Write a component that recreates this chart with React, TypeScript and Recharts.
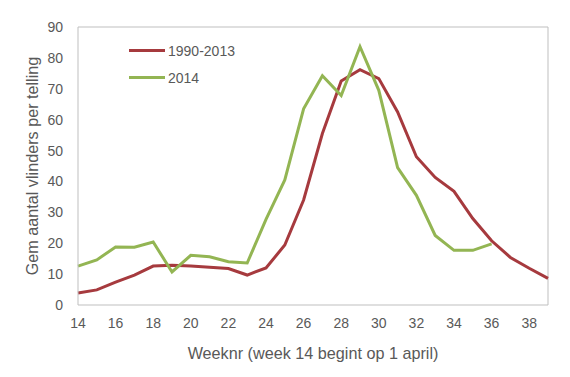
import React from 'react';
import { LineChart, Line, XAxis, YAxis, Legend, Label, ReferenceLine } from 'recharts';

const weeks = [14, 15, 16, 17, 18, 19, 20, 21, 22, 23, 24, 25, 26, 27, 28, 29, 30, 31, 32, 33, 34, 35, 36, 37, 38, 39];
const avg19902013 = [3.9, 4.9, 7.4, 9.7, 12.6, 12.9, 12.6, 12.2, 11.8, 9.7, 12, 19.4, 34, 55.5, 72.5, 76.2, 73.3, 62.5, 48, 41.3, 36.8, 28, 20.8, 15.4, 11.9, 8.6];
const y2014 = [12.6, 14.6, 18.8, 18.7, 20.4, 10.7, 16.1, 15.6, 14, 13.6, 27.7, 40.5, 63.5, 74.2, 67.8, 83.6, 69.5, 44.5, 35.5, 22.5, 17.7, 17.7, 19.8];
const xTicks = [14, 16, 18, 20, 22, 24, 26, 28, 30, 32, 34, 36, 38];
const yTicks = [0, 10, 20, 30, 40, 50, 60, 70, 80, 90];
const seriesNames = ['1990-2013', '2014'];
const RED = '#A63A3E';
const GREEN = '#93B553';
const FONT = 'Liberation Sans, Arial, sans-serif';
const TEXT = '#595959';

const data = weeks.map((w, i) => ({
  week: w,
  a: avg19902013[i],
  b: i < y2014.length ? y2014[i] : null,
}));

const LegendContent = () => (
  <div style={{ fontFamily: FONT, fontSize: 14, color: TEXT }}>
    {[{ n: seriesNames[0], c: RED }, { n: seriesNames[1], c: GREEN }].map((it, i) => (
      <div key={i} style={{ display: 'flex', alignItems: 'center', height: 27 }}>
        <div style={{ width: 36, height: 3, background: it.c, marginRight: 3 }} />
        <span>{it.n}</span>
      </div>
    ))}
  </div>
);

export default function App() {
  return (
    <div style={{ position: 'absolute', left: 0, top: 0, width: 570, height: 377, background: '#fff' }}>
      <LineChart width={570} height={377} data={data} margin={{ top: 27, right: 22, bottom: 42, left: 38 }}>
        <XAxis
          dataKey="week"
          type="number"
          domain={[14, 39]}
          ticks={xTicks}
          tickLine={false}
          axisLine={{ stroke: '#BFBFBF' }}
          tick={{ fill: TEXT, fontSize: 14, fontFamily: FONT }}
          tickMargin={7}
          height={30}
        >
          <Label
            value="Weeknr  (week  14 begint op 1 april)"
            position="bottom"
            offset={12}
            style={{ fill: TEXT, fontSize: 16.2, fontFamily: FONT, whiteSpace: 'pre' }}
          />
        </XAxis>
        <YAxis
          domain={[0, 90]}
          ticks={yTicks}
          tickLine={false}
          axisLine={{ stroke: '#BFBFBF' }}
          tick={{ fill: TEXT, fontSize: 14, fontFamily: FONT }}
          tickMargin={9}
          width={40}
          interval={0}
        >
          <Label
            value="Gem aantal vlinders per telling"
            angle={-90}
            position="insideLeft"
            offset={-6}
            style={{ fill: TEXT, fontSize: 16.2, fontFamily: FONT, textAnchor: 'middle' }}
          />
        </YAxis>
        <ReferenceLine y={90} stroke="#BFBFBF" />
        <ReferenceLine x={39} stroke="#BFBFBF" />
        <Legend
          layout="vertical"
          verticalAlign="middle"
          align="center"
          wrapperStyle={{ left: 129, top: 37, width: 140 }}
          content={<LegendContent />}
        />
        <Line dataKey="a" name={seriesNames[0]} stroke={RED} strokeWidth={3} dot={false} isAnimationActive={false} />
        <Line dataKey="b" name={seriesNames[1]} stroke={GREEN} strokeWidth={3} dot={false} isAnimationActive={false} connectNulls={false} />
      </LineChart>
    </div>
  );
}
